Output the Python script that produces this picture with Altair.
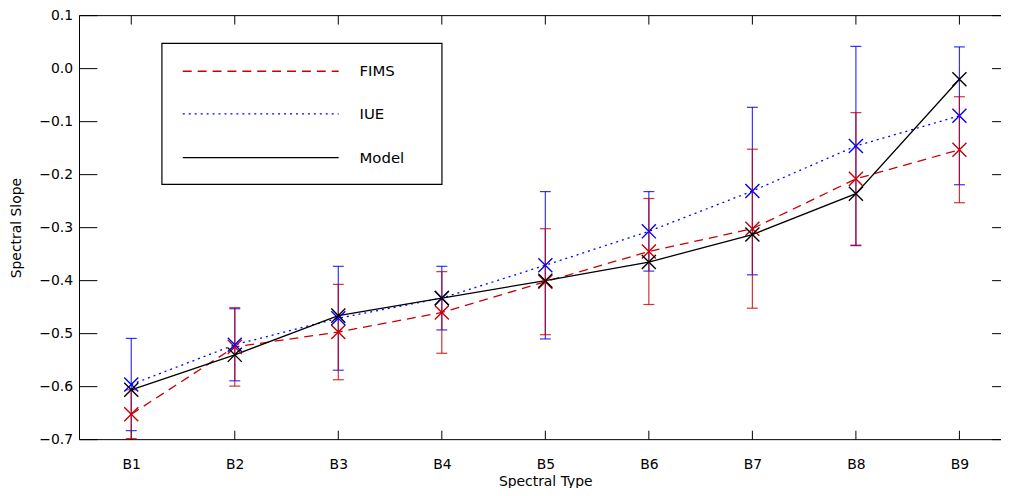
import altair as alt
import pandas as pd

# ---- data ----
types = ["B1", "B2", "B3", "B4", "B5", "B6", "B7", "B8", "B9"]
xpos = [1, 2, 3, 4, 5, 6, 7, 8, 9]
fims = [-0.652, -0.525, -0.497, -0.460, -0.402, -0.345, -0.302, -0.208, -0.153]
fims_err = [0.046, 0.074, 0.090, 0.077, 0.100, 0.100, 0.150, 0.125, 0.100]
iue = [-0.596, -0.521, -0.471, -0.433, -0.371, -0.307, -0.231, -0.146, -0.089]
iue_err = [0.087, 0.068, 0.098, 0.060, 0.139, 0.075, 0.158, 0.188, 0.130]
model = [-0.606, -0.540, -0.466, -0.433, -0.400, -0.365, -0.313, -0.236, -0.020]
y_ticks = [0.1, 0.0, -0.1, -0.2, -0.3, -0.4, -0.5, -0.6, -0.7]
legend_labels = ["FIMS", "IUE", "Model"]

RED = "#c80000"
BLUE = "#0000ff"
BLACK = "#000000"
FONT = "DejaVu Sans"

W, H = 928, 427
PX_PER_UNIT = 104.25

xs = alt.Scale(domain=[0.5, 0.5 + W / PX_PER_UNIT], nice=False, zero=False)
ys = alt.Scale(domain=[-0.7, 0.1], nice=False, zero=False)


def sdf(vals, errs=None):
    d = {"x": xpos, "type": types, "v": vals}
    if errs is not None:
        d["lo"] = [v - e for v, e in zip(vals, errs)]
        d["hi"] = [v + e for v, e in zip(vals, errs)]
    return pd.DataFrame(d)


one = pd.DataFrame({"k": [0]})
ytdf = pd.DataFrame({"v": y_ticks})
xtdf = pd.DataFrame({"x": xpos})

# base with axes (labels only; frame drawn by rules)
base_axes = alt.Chart(sdf(model)).mark_point(opacity=0).encode(
    x=alt.X("x:Q", scale=xs, axis=alt.Axis(
        values=xpos, labelExpr="'B' + datum.value", ticks=False, domain=False,
        grid=False, labelPadding=18, title="Spectral Type", titleX=469,
        titleY=46, titleBaseline="alphabetic",
        labelFont=FONT, labelFontSize=14, labelColor="black",
        titleFont=FONT, titleFontSize=14, titleFontWeight="normal", titleColor="black")),
    y=alt.Y("v:Q", scale=ys, axis=alt.Axis(
        values=y_ticks, format=".1f", ticks=False, domain=False, grid=False,
        labelPadding=7, title="Spectral Slope", titleX=-56,
        labelFont=FONT, labelFontSize=14, labelColor="black",
        titleFont=FONT, titleFontSize=14, titleFontWeight="normal", titleColor="black")),
)

# frame
left_border = alt.Chart(one).mark_rule(color="black", strokeWidth=1).encode(
    x=alt.value(0), y=alt.value(0), y2=alt.value(H))
top_border = alt.Chart(one).mark_rule(color="black", strokeWidth=1).encode(
    x=alt.value(0), x2=alt.value(W), y=alt.value(0))
bottom_border = alt.Chart(one).mark_rule(color="black", strokeWidth=1).encode(
    x=alt.value(0), x2=alt.value(W), y=alt.value(H))

left_ticks = alt.Chart(ytdf).mark_rule(color="black", strokeWidth=1).encode(
    y=alt.Y("v:Q", scale=ys), x=alt.value(0), x2=alt.value(18))
right_ticks = alt.Chart(ytdf).mark_rule(color="black", strokeWidth=1).encode(
    y=alt.Y("v:Q", scale=ys), x=alt.value(W - 9), x2=alt.value(W))
bottom_ticks = alt.Chart(xtdf).mark_rule(color="black", strokeWidth=1).encode(
    x=alt.X("x:Q", scale=xs), y=alt.value(H - 9), y2=alt.value(H))
top_ticks = alt.Chart(xtdf).mark_rule(color="black", strokeWidth=1).encode(
    x=alt.X("x:Q", scale=xs), y=alt.value(0), y2=alt.value(9))


def errbars(vals, errs, color, op):
    d = sdf(vals, errs)
    bar = alt.Chart(d).mark_rule(color=color, strokeWidth=1.2, opacity=op).encode(
        x=alt.X("x:Q", scale=xs), y=alt.Y("lo:Q", scale=ys), y2="hi:Q")
    cap_lo = alt.Chart(d).mark_tick(color=color, orient="horizontal", size=11,
                                    thickness=1.2, opacity=op).encode(
        x=alt.X("x:Q", scale=xs), y=alt.Y("lo:Q", scale=ys))
    cap_hi = alt.Chart(d).mark_tick(color=color, orient="horizontal", size=11,
                                    thickness=1.2, opacity=op).encode(
        x=alt.X("x:Q", scale=xs), y=alt.Y("hi:Q", scale=ys))
    return [bar, cap_lo, cap_hi]


def series_line(vals, color, dash):
    kw = dict(color=color, strokeWidth=1.3)
    if dash:
        kw["strokeDash"] = dash
    return alt.Chart(sdf(vals)).mark_line(**kw).encode(
        x=alt.X("x:Q", scale=xs), y=alt.Y("v:Q", scale=ys))


XSHAPE = "M-1,-1L1,1M-1,1L1,-1"


def series_pts(vals, color):
    return alt.Chart(sdf(vals)).mark_point(
        shape=XSHAPE, size=200, filled=False, color=color, strokeWidth=1.4,
        opacity=1).encode(x=alt.X("x:Q", scale=xs), y=alt.Y("v:Q", scale=ys))


# legend (drawn box)
LEG_Y = [56, 99, 143]
legend_box = alt.Chart(one).mark_rect(filled=False, stroke="black", strokeWidth=1.2).encode(
    x=alt.value(83), x2=alt.value(365), y=alt.value(28), y2=alt.value(170))
leg_layers = [legend_box]
for lab, col, dash, yy in zip(legend_labels, [RED, BLUE, BLACK],
                              [[9, 6], [2, 4], None], LEG_Y):
    kw = dict(color=col, strokeWidth=1.3)
    if dash:
        kw["strokeDash"] = dash
    leg_layers.append(alt.Chart(one).mark_rule(**kw).encode(
        x=alt.value(104), x2=alt.value(261), y=alt.value(yy)))
    leg_layers.append(alt.Chart(pd.DataFrame({"t": [lab]})).mark_text(
        align="left", baseline="middle", font=FONT, fontSize=15, color="black").encode(
        x=alt.value(282), y=alt.value(yy), text="t:N"))

layers = [base_axes, left_border, top_border, bottom_border,
          left_ticks, right_ticks, bottom_ticks, top_ticks]
layers += errbars(iue, iue_err, BLUE, 0.8)
layers += errbars(fims, fims_err, RED, 0.8)
layers += [series_line(fims, RED, [9, 6]), series_line(iue, BLUE, [2, 4]),
           series_line(model, BLACK, None)]
layers += [series_pts(fims, RED), series_pts(iue, BLUE), series_pts(model, BLACK)]
layers += leg_layers

chart = alt.layer(*layers).properties(
    width=W, height=H,
    background="white",
    autosize=alt.AutoSizeParams(type="none"),
    padding={"left": 72, "top": 6, "right": 0, "bottom": 47},
).configure_view(stroke=None)

chart.save("out.html", embed_options={"renderer": "svg", "actions": False})
